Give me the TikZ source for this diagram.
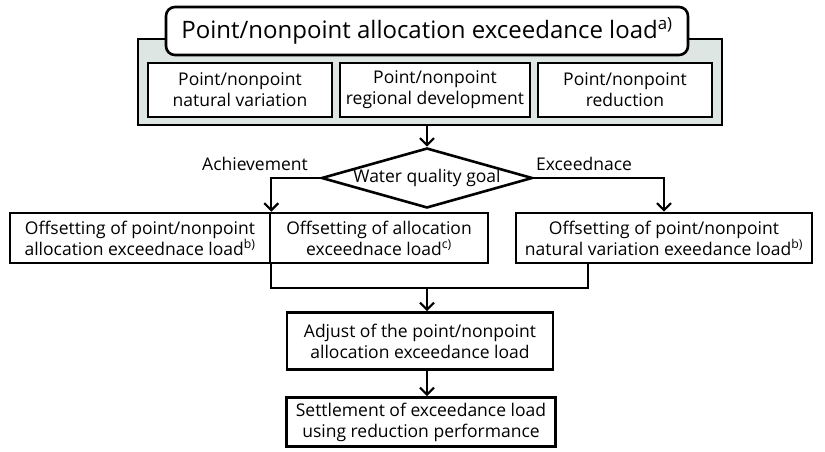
\documentclass[tikz,border=0pt]{standalone}
\usepackage{fontspec}
\setmainfont{Open Sans}
\usetikzlibrary{arrows.meta,shapes.geometric}
\definecolor{panelgray}{RGB}{222,230,228}

\tikzset{
  box/.style={draw,line width=2.6pt,align=center,inner sep=0pt,font=\fontsize{17.5}{21}\selectfont},
  goal/.style={draw,diamond,line width=2.6pt,aspect=3.5,inner sep=0pt,font=\fontsize{17.5}{21}\selectfont},
  branch/.style={font=\fontsize{17.5}{21}\selectfont,inner sep=0pt},
  flow/.style={-{Straight Barb[length=7pt,width=14pt]},line width=2.2pt},
  link/.style={line width=2.2pt}
}

\begin{document}
\begin{tikzpicture}[x=1pt,y=-1pt]
\useasboundingbox (0,0) rectangle (825,452);

% grey panel with the sources
\draw[line width=2.6pt,fill=panelgray] (138,39) rectangle (722,125);
\node[box,rounded corners=9pt,fill=white,minimum width=522pt,minimum height=48pt,font=\fontsize{24}{28}\selectfont] (load) at (427,31) {Point/nonpoint allocation exceedance load\textsuperscript{a)}};
\node[box,fill=white,minimum width=184pt,minimum height=54pt] (natural) at (240,90) {Point/nonpoint\\natural variation};
\node[box,fill=white,minimum width=190pt,minimum height=54pt] (regional) at (435,90) {Point/nonpoint\\regional development};
\node[box,fill=white,minimum width=174pt,minimum height=54pt] (reduction) at (625,90) {Point/nonpoint\\reduction};

% decision
\node[goal,minimum width=211pt,minimum height=60pt] (goal) at (427,178) {Water quality goal};
\coordinate (panel) at (427,125);
\draw[flow] (panel) -- (goal.north);

% offsetting row
\node[box,minimum width=260pt,minimum height=50pt] (offpoint) at (140,238) {Offsetting of point/nonpoint\\allocation exceednace load\textsuperscript{b)}};
\node[box,minimum width=218pt,minimum height=50pt] (offalloc) at (379,238) {Offsetting of allocation\\exceednace load\textsuperscript{c)}};
\node[box,minimum width=296pt,minimum height=50pt] (offnat) at (664,238) {Offsetting of point/nonpoint\\natural variation exeedance load\textsuperscript{b)}};

\node[branch] (achieve) at (255,164) {Achievement};
\node[branch] (exceed) at (584,164) {Exceednace};
\draw[flow] (goal.west) -| (offpoint.north east);
\draw[flow] (goal.east) -| (offnat.north);

% merge
\node[box,minimum width=266pt,minimum height=57pt] (adjust) at (420,341) {Adjust of the point/nonpoint\\allocation exceedance load};
\node[box,minimum width=269pt,minimum height=49pt] (settle) at (421,422) {Settlement of exceedance load\\using reduction performance};
\coordinate (merge) at (427,288);
\coordinate (nat) at (588,263);
\draw[link] (offpoint.south east) |- (merge);
\draw[link] (nat) |- (merge);
\draw[flow] (merge) -- (adjust.north -| merge);
\draw[flow] (adjust.south -| merge) -- (settle.north -| merge);

\end{tikzpicture}
\end{document}
